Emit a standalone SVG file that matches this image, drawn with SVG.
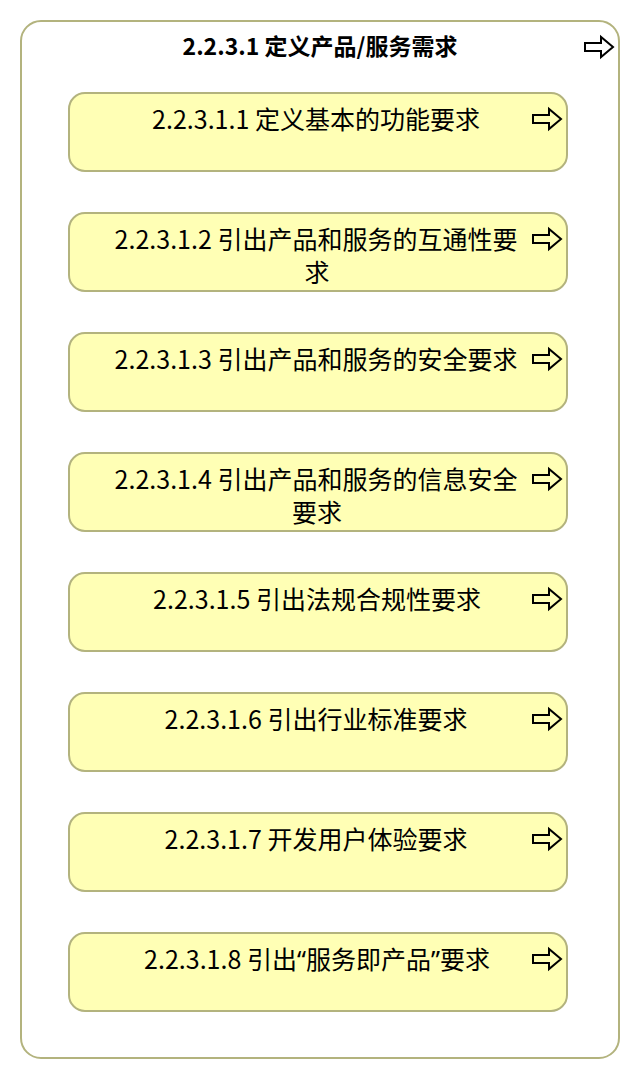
<svg xmlns="http://www.w3.org/2000/svg" xmlns:xlink="http://www.w3.org/1999/xlink" width="640" height="1080" viewBox="0 0 640 1080">
<style>
.outer{fill:#ffffff;stroke:#b3b37e;stroke-width:2}
.box{fill:#ffffb5;stroke:#b3b37e;stroke-width:2}
.title{font-family:"Noto Sans CJK SC","Noto Sans",sans-serif;font-size:23px;font-weight:bold;fill:#000;text-anchor:middle}
.lbl{font-family:"Noto Sans CJK SC","Noto Sans",sans-serif;font-size:25px;fill:#000;text-anchor:middle}
.q{font-family:"Noto Sans",sans-serif}
.ico{fill:none;stroke:#000;stroke-width:2;stroke-linejoin:miter}
</style>
<defs>
<path id="arr" class="ico" d="M0,-4 H16 V-10 L28,0 L16,10 V4 H0 Z"/>
</defs>
<rect width="640" height="1080" fill="#ffffff"/>
<g id="container">
<rect class="outer" x="21" y="21" width="598" height="1037" rx="20" ry="20"/>
<text class="title" x="320" y="55">2.2.3.1 定义产品/服务需求</text>
<use xlink:href="#arr" x="585" y="47"/>
</g>
<g id="n1">
<rect class="box" x="69" y="93" width="498" height="78" rx="16" ry="16"/>
<text class="lbl" x="316" y="129">2.2.3.1.1 定义基本的功能要求</text>
<use xlink:href="#arr" x="533" y="119"/>
</g>
<g id="n2">
<rect class="box" x="69" y="213" width="498" height="78" rx="16" ry="16"/>
<text class="lbl" x="316" y="249">2.2.3.1.2 引出产品和服务的互通性要</text>
<text class="lbl" x="317" y="282">求</text>
<use xlink:href="#arr" x="533" y="239"/>
</g>
<g id="n3">
<rect class="box" x="69" y="333" width="498" height="78" rx="16" ry="16"/>
<text class="lbl" x="316" y="369">2.2.3.1.3 引出产品和服务的安全要求</text>
<use xlink:href="#arr" x="533" y="359"/>
</g>
<g id="n4">
<rect class="box" x="69" y="453" width="498" height="78" rx="16" ry="16"/>
<text class="lbl" x="316" y="489">2.2.3.1.4 引出产品和服务的信息安全</text>
<text class="lbl" x="317" y="522">要求</text>
<use xlink:href="#arr" x="533" y="479"/>
</g>
<g id="n5">
<rect class="box" x="69" y="573" width="498" height="78" rx="16" ry="16"/>
<text class="lbl" x="317" y="609">2.2.3.1.5 引出法规合规性要求</text>
<use xlink:href="#arr" x="533" y="599"/>
</g>
<g id="n6">
<rect class="box" x="69" y="693" width="498" height="78" rx="16" ry="16"/>
<text class="lbl" x="316" y="729">2.2.3.1.6 引出行业标准要求</text>
<use xlink:href="#arr" x="533" y="719"/>
</g>
<g id="n7">
<rect class="box" x="69" y="813" width="498" height="78" rx="16" ry="16"/>
<text class="lbl" x="316" y="849">2.2.3.1.7 开发用户体验要求</text>
<use xlink:href="#arr" x="533" y="839"/>
</g>
<g id="n8">
<rect class="box" x="69" y="933" width="498" height="78" rx="16" ry="16"/>
<text class="lbl" x="317" y="969">2.2.3.1.8 引出<tspan class="q">“</tspan>服务即产品<tspan class="q">”</tspan>要求</text>
<use xlink:href="#arr" x="533" y="959"/>
</g>
<g id="connectors"/>
</svg>
